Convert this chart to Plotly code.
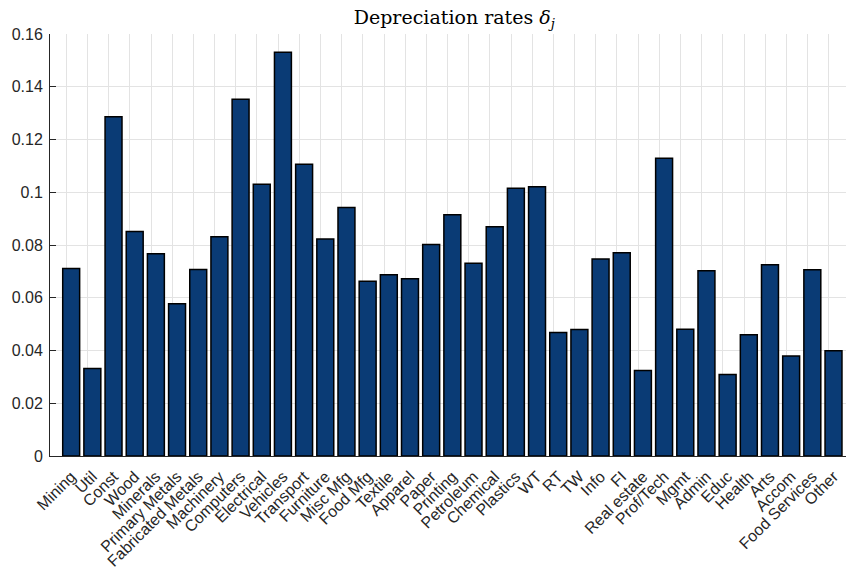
import plotly.graph_objects as go

categories = ["Mining", "Util", "Const", "Wood", "Minerals", "Primary Metals",
              "Fabricated Metals", "Machinery", "Computers", "Electrical", "Vehicles",
              "Transport", "Furniture", "Misc Mfg", "Food Mfg", "Textile", "Apparel",
              "Paper", "Printing", "Petroleum", "Chemical", "Plastics", "WT", "RT", "TW",
              "Info", "FI", "Real estate", "Prof/Tech", "Mgmt", "Admin", "Educ", "Health",
              "Arts", "Accom", "Food Services", "Other"]

depreciation = [0.0711, 0.0332, 0.1286, 0.0851, 0.0767, 0.0577,
                 0.0707, 0.0831, 0.1353, 0.1030, 0.1531,
                 0.1106, 0.0823, 0.0942, 0.0663, 0.0687, 0.0672,
                 0.0802, 0.0915, 0.0731, 0.0869, 0.1015, 0.1021, 0.0468, 0.0480,
                 0.0747, 0.0771, 0.0324, 0.1129, 0.0481, 0.0702, 0.0309, 0.0460,
                 0.0725, 0.0379, 0.0706, 0.0399]

y_tickvals = [0, 0.02, 0.04, 0.06, 0.08, 0.1, 0.12, 0.14, 0.16]
y_ticktext = ["0", "0.02", "0.04", "0.06", "0.08", "0.1", "0.12", "0.14", "0.16"]

positions = list(range(len(categories)))

fig = go.Figure()
fig.add_trace(go.Bar(
    x=positions,
    y=depreciation,
    width=0.8,
    marker=dict(color="#0a3b75", line=dict(color="#000000", width=1.5)),
))

axis_color = "#262626"
grid_color = "#e3e3e3"

fig.update_layout(
    width=846, height=567,
    margin=dict(l=50, r=0, t=34, b=111, autoexpand=False),
    paper_bgcolor="white", plot_bgcolor="white",
    showlegend=False,
    title=dict(
        text="Depreciation rates <i>δ<sub>j</sub></i>",
        font=dict(family="DejaVu Serif", size=19, color="#000000"),
        x=0.537, xref="container", xanchor="center",
        y=0.970, yref="container", yanchor="middle",
    ),
    xaxis=dict(
        range=[-1.0, 36.59],
        automargin=False,
        tickmode="array", tickvals=positions, ticktext=categories,
        tickangle=-45,
        tickfont=dict(family="Liberation Sans", size=16, color=axis_color),
        ticklabelstandoff=4,
        showgrid=False,
        minor=dict(tickmode="linear", tick0=-0.225, dtick=1, showgrid=True,
                   gridcolor=grid_color, gridwidth=1, ticks=""),
        showline=True, linecolor=axis_color, linewidth=1,
        ticks="", zeroline=False,
    ),
    yaxis=dict(
        range=[0, 0.16],
        automargin=False,
        tickmode="array", tickvals=y_tickvals, ticktext=y_ticktext,
        tickfont=dict(family="Liberation Sans", size=16, color=axis_color),
        ticklabelstandoff=3,
        showgrid=True, gridcolor=grid_color, gridwidth=1,
        showline=True, linecolor=axis_color, linewidth=1,
        ticks="inside", ticklen=6, tickcolor=axis_color,
        zeroline=False,
    ),
    bargap=0.2,
)

# remove the default 8px page margin so the figure sits at the window's corner
fig.write_html("out.html",
               config={"displayModeBar": False},
               post_script="document.body.style.margin='0';document.body.style.overflow='hidden';")
